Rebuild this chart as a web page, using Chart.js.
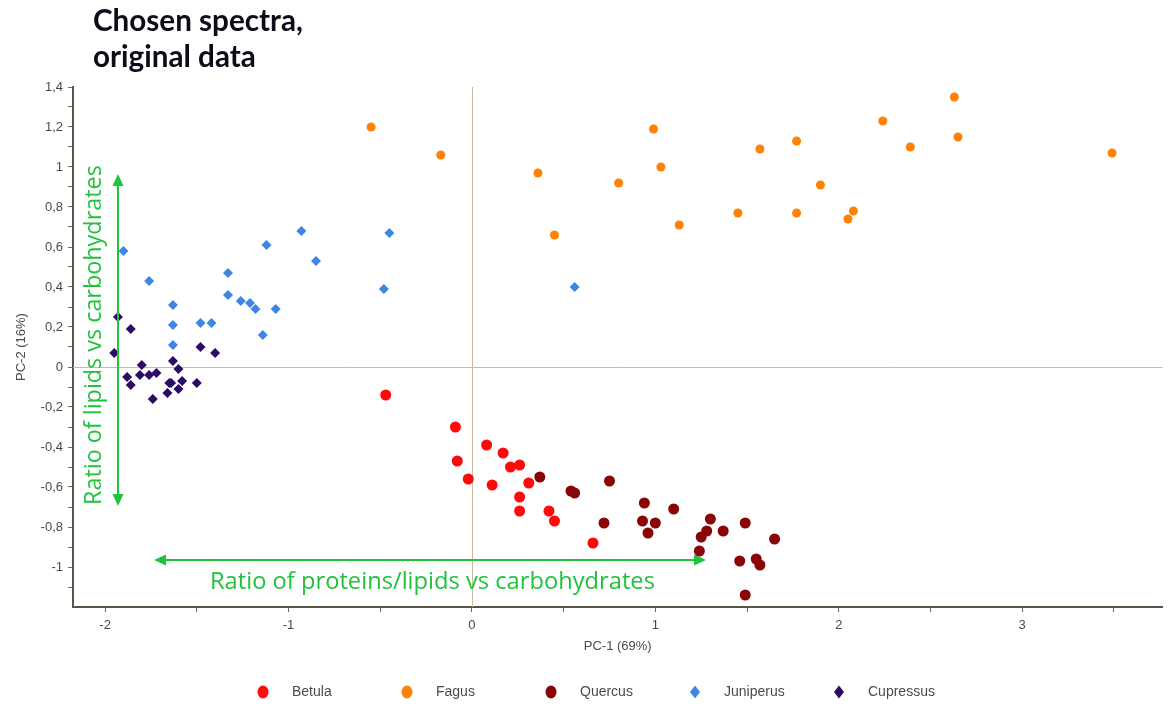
<!DOCTYPE html>
<html>
<head>
<meta charset="utf-8">
<script src="https://cdn.jsdelivr.net/npm/chart.js@4.4.1/dist/chart.umd.min.js"></script>
<style>
  html, body { margin: 0; padding: 0; background: #ffffff; }
  #wrap { width: 1168px; height: 706px; position: relative; }
</style>
</head>
<body>
<div id="wrap"><canvas id="pca" width="1168" height="706"></canvas></div>
<script>
// PCA scores (PC-1, PC-2) for each wood species
const seriesNames = ['Betula', 'Fagus', 'Quercus', 'Juniperus', 'Cupressus'];

const betula = [
  [-0.47, -0.14], [-0.09, -0.30], [-0.08, -0.47], [-0.02, -0.56], [0.08, -0.39],
  [0.17, -0.43], [0.21, -0.50], [0.26, -0.49], [0.11, -0.59], [0.31, -0.58],
  [0.26, -0.65], [0.26, -0.72], [0.42, -0.72], [0.45, -0.77], [0.66, -0.88]
];

const fagus = [
  [-0.55, 1.20], [-0.17, 1.06], [0.36, 0.97], [0.45, 0.66], [0.80, 0.92],
  [0.99, 1.19], [1.03, 1.00], [1.13, 0.71], [1.45, 0.77], [1.57, 1.09],
  [1.77, 1.13], [1.77, 0.77], [1.90, 0.91], [2.05, 0.74], [2.08, 0.78],
  [2.24, 1.23], [2.39, 1.10], [2.63, 1.35], [2.65, 1.15], [3.49, 1.07]
];

const quercus = [
  [0.37, -0.55], [0.54, -0.62], [0.56, -0.63], [0.75, -0.57], [0.72, -0.78],
  [0.94, -0.68], [0.93, -0.77], [1.00, -0.78], [0.96, -0.83], [1.10, -0.71],
  [1.30, -0.76], [1.28, -0.82], [1.37, -0.82], [1.25, -0.85], [1.24, -0.92],
  [1.49, -0.78], [1.65, -0.86], [1.46, -0.97], [1.55, -0.96], [1.57, -0.99],
  [1.49, -1.14]
];

const juniperus = [
  [-1.90, 0.58], [-1.76, 0.43], [-1.63, 0.31], [-1.63, 0.21], [-1.63, 0.11],
  [-1.48, 0.22], [-1.42, 0.22], [-1.33, 0.47], [-1.33, 0.36], [-1.26, 0.33],
  [-1.21, 0.32], [-1.18, 0.29], [-1.12, 0.61], [-1.14, 0.16], [-1.07, 0.29],
  [-0.93, 0.68], [-0.85, 0.53], [-0.45, 0.67], [-0.48, 0.39], [0.56, 0.40]
];

const cupressus = [
  [-1.93, 0.25], [-1.86, 0.19], [-1.95, 0.07], [-1.48, 0.10], [-1.40, 0.07],
  [-1.80, 0.01], [-1.63, 0.03], [-1.60, -0.01], [-1.88, -0.05], [-1.86, -0.09],
  [-1.81, -0.04], [-1.76, -0.04], [-1.72, -0.03], [-1.65, -0.08], [-1.64, -0.08],
  [-1.58, -0.07], [-1.60, -0.11], [-1.50, -0.08], [-1.66, -0.13], [-1.74, -0.16]
];

// Axis ticks: labelled majors, blank minors
const xTickValues = [-2, -1.5, -1, -0.5, 0, 0.5, 1, 1.5, 2, 2.5, 3, 3.5];
const xTickLabels = ['-2', '', '-1', '', '0', '', '1', '', '2', '', '3', ''];
const yTickValues = [1.4, 1.3, 1.2, 1.1, 1, 0.9, 0.8, 0.7, 0.6, 0.5, 0.4, 0.3, 0.2, 0.1, 0,
                     -0.1, -0.2, -0.3, -0.4, -0.5, -0.6, -0.7, -0.8, -0.9, -1, -1.1];
const yTickLabels = ['1,4', '', '1,2', '', '1', '', '0,8', '', '0,6', '', '0,4', '', '0,2', '', '0',
                     '', '-0,2', '', '-0,4', '', '-0,6', '', '-0,8', '', '-1', ''];

const titleLines = ['Chosen spectra,', 'original data'];
const xAxisTitle = 'PC-1 (69%)';
const yAxisTitle = 'PC-2 (16%)';
const pc1Note = 'Ratio of proteins/lipids vs carbohydrates';
const pc2Note = 'Ratio of lipids vs carbohydrates';

const toPoints = arr => arr.map(p => ({ x: p[0], y: p[1] }));

const seriesData = [betula, fagus, quercus, juniperus, cupressus];
const seriesColors = ['#ff0a0a', '#ff8205', '#8a0606', '#3f86e4', '#2c0b68'];
const seriesShapes = ['circle', 'circle', 'circle', 'rectRot', 'rectRot'];
const seriesRadius = [5.5, 4.5, 5.5, 5, 5];

const datasets = seriesNames.map((name, i) => ({
  label: name,
  data: toPoints(seriesData[i]),
  backgroundColor: seriesColors[i],
  borderColor: seriesColors[i],
  borderWidth: 0,
  pointStyle: seriesShapes[i],
  pointRadius: seriesRadius[i],
  pointHoverRadius: seriesRadius[i]
}));

// Thin cross-hair through the origin
const originLines = {
  id: 'originLines',
  beforeDatasetsDraw(chart) {
    const { ctx, chartArea: a, scales: { x, y } } = chart;
    const x0 = Math.round(x.getPixelForValue(0)) + 0.5;
    const y0 = Math.round(y.getPixelForValue(0)) + 0.5;
    ctx.save();
    ctx.strokeStyle = '#c9bb9c';
    ctx.lineWidth = 1;
    ctx.beginPath();
    ctx.moveTo(x0, a.top); ctx.lineTo(x0, a.bottom);
    ctx.moveTo(a.left, y0); ctx.lineTo(a.right, y0);
    ctx.stroke();
    ctx.restore();
  }
};

function fitFont(ctx, text, family, weight, targetWidth) {
  ctx.font = weight + ' 100px ' + family;
  const w = ctx.measureText(text).width;
  return 100 * targetWidth / w;
}

function arrowHead(ctx, tipX, tipY, dx, dy, len, half) {
  // dx,dy: unit direction pointing toward the tip
  const bx = tipX - dx * len, by = tipY - dy * len;
  ctx.beginPath();
  ctx.moveTo(tipX, tipY);
  ctx.lineTo(bx - dy * half, by + dx * half);
  ctx.lineTo(bx + dy * half, by - dx * half);
  ctx.closePath();
  ctx.fill();
}

// Heading, green interpretation arrows and the series key
const decorations = {
  id: 'decorations',
  afterDraw(chart) {
    const ctx = chart.ctx;
    ctx.save();

    // heading
    const family = 'Lato, "Open Sans", sans-serif';
    const hSize = fitFont(ctx, titleLines[0], family, 'bold', 210);
    ctx.font = 'bold ' + hSize.toFixed(2) + 'px ' + family;
    ctx.fillStyle = '#0c0c18';
    ctx.textAlign = 'left';
    ctx.textBaseline = 'alphabetic';
    ctx.fillText(titleLines[0], 93, 31);
    ctx.fillText(titleLines[1], 93, 67);

    // green arrows
    const green = '#21c23c';
    ctx.strokeStyle = green;
    ctx.fillStyle = green;
    ctx.lineWidth = 2;

    // horizontal (PC-1)
    ctx.beginPath();
    ctx.moveTo(160, 560); ctx.lineTo(700, 560);
    ctx.stroke();
    arrowHead(ctx, 154, 560, -1, 0, 12, 5.5);
    arrowHead(ctx, 706, 560, 1, 0, 12, 5.5);

    // vertical (PC-2)
    ctx.beginPath();
    ctx.moveTo(118, 180); ctx.lineTo(118, 500);
    ctx.stroke();
    arrowHead(ctx, 118, 174, 0, -1, 12, 5.5);
    arrowHead(ctx, 118, 506, 0, 1, 12, 5.5);

    const nFamily = '"Open Sans", "DejaVu Sans", sans-serif';
    const s1 = fitFont(ctx, pc1Note, nFamily, 'normal', 445);
    ctx.font = 'normal ' + s1.toFixed(2) + 'px ' + nFamily;
    ctx.textAlign = 'left';
    ctx.textBaseline = 'middle';
    ctx.fillText(pc1Note, 210, 582);

    const s2 = fitFont(ctx, pc2Note, nFamily, 'normal', 340);
    ctx.font = 'normal ' + s2.toFixed(2) + 'px ' + nFamily;
    ctx.translate(94, 505);
    ctx.rotate(-Math.PI / 2);
    ctx.fillText(pc2Note, 0, 0);
    ctx.setTransform(1, 0, 0, 1, 0, 0);

    // series key
    const keyY = 692, keyX0 = 263, keyStep = 144;
    ctx.font = '14px Arial, "Liberation Sans", sans-serif';
    ctx.textBaseline = 'middle';
    chart.data.datasets.forEach((ds, i) => {
      const cx = keyX0 + i * keyStep;
      ctx.fillStyle = ds.backgroundColor;
      ctx.beginPath();
      if (ds.pointStyle === 'rectRot') {
        ctx.moveTo(cx, keyY - 6.5);
        ctx.lineTo(cx + 5, keyY);
        ctx.lineTo(cx, keyY + 6.5);
        ctx.lineTo(cx - 5, keyY);
        ctx.closePath();
      } else {
        ctx.ellipse(cx, keyY, 5.5, 6.5, 0, 0, Math.PI * 2);
      }
      ctx.fill();
      ctx.fillStyle = '#4a4a4a';
      ctx.fillText(ds.label, cx + 29, keyY);
    });

    ctx.restore();
  }
};

const axisLine = { color: '#5a5346', width: 2 };
const tickFont = { family: 'Arial, "Liberation Sans", sans-serif', size: 13 };

new Chart(document.getElementById('pca'), {
  type: 'scatter',
  data: { datasets },
  options: {
    responsive: false,
    animation: false,
    events: [],
    layout: { padding: { top: 87, right: 0, bottom: 39, left: 0 } },
    plugins: {
      legend: { display: false },
      title: { display: false },
      tooltip: { enabled: false }
    },
    scales: {
      x: {
        type: 'linear',
        min: -2.175,
        max: 3.765,
        border: axisLine,
        grid: { drawOnChartArea: false, drawTicks: true, tickLength: 5, color: '#6e6a60', lineWidth: 1 },
        afterBuildTicks(scale) { scale.ticks = xTickValues.map(v => ({ value: v })); },
        afterFit(scale) { scale.height = 60; },
        ticks: {
          autoSkip: false, maxRotation: 0, padding: 6,
          color: '#4a4a4a', font: tickFont,
          callback: (v, i) => xTickLabels[i]
        },
        title: {
          display: true, text: xAxisTitle, color: '#4a4a4a',
          font: { family: 'Arial, "Liberation Sans", sans-serif', size: 13 },
          padding: { top: 0, bottom: 13 }
        }
      },
      y: {
        type: 'linear',
        min: -1.2,
        max: 1.4,
        border: axisLine,
        grid: { drawOnChartArea: false, drawTicks: true, tickLength: 5, color: '#6e6a60', lineWidth: 1 },
        afterBuildTicks(scale) { scale.ticks = yTickValues.map(v => ({ value: v })); },
        afterFit(scale) { scale.width = 73; },
        ticks: {
          autoSkip: false, padding: 5,
          color: '#4a4a4a', font: tickFont,
          callback: (v, i) => yTickLabels[i]
        },
        title: {
          display: true, text: yAxisTitle, color: '#4a4a4a',
          font: { family: 'Arial, "Liberation Sans", sans-serif', size: 13 },
          padding: { top: 14, bottom: 0 }
        }
      }
    }
  },
  plugins: [originLines, decorations]
});
</script>
</body>
</html>
